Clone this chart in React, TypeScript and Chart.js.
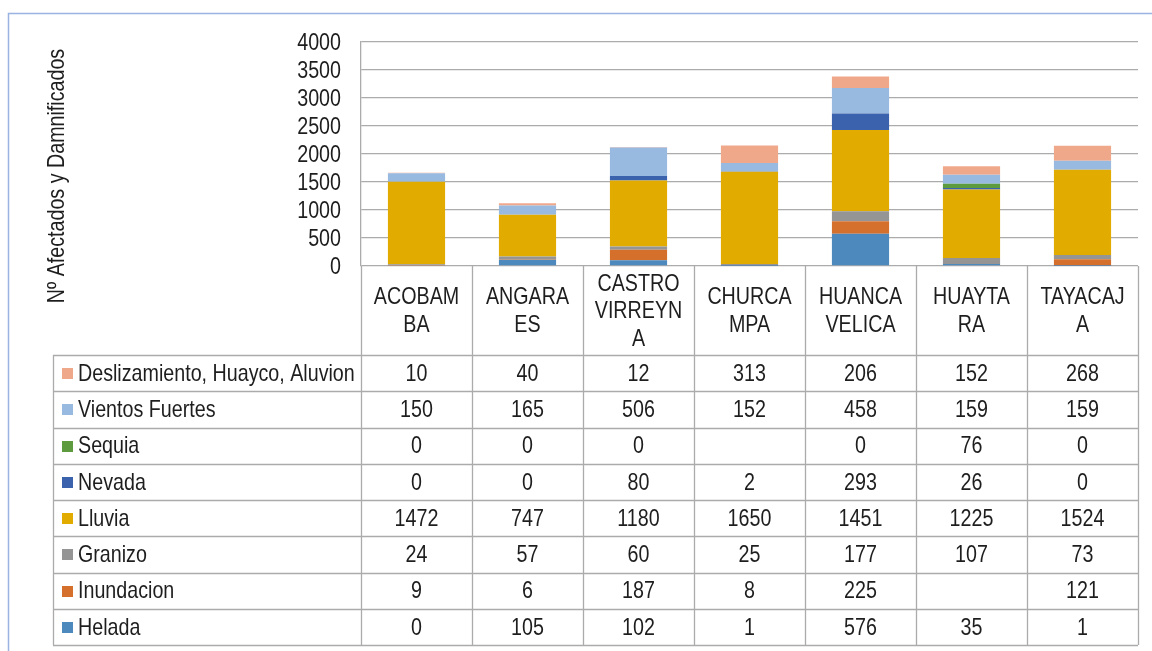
import React, { useEffect, useRef } from "react";
import { Chart, registerables } from "chart.js";

Chart.register(...registerables);

// ---- Data ----
const categoryLabels: string[][] = [
  ["ACOBAM", "BA"],
  ["ANGARA", "ES"],
  ["CASTRO", "VIRREYN", "A"],
  ["CHURCA", "MPA"],
  ["HUANCA", "VELICA"],
  ["HUAYTA", "RA"],
  ["TAYACAJ", "A"],
];

const helada: (number | null)[] = [0, 105, 102, 1, 576, 35, 1];
const inundacion: (number | null)[] = [9, 6, 187, 8, 225, null, 121];
const granizo: (number | null)[] = [24, 57, 60, 25, 177, 107, 73];
const lluvia: (number | null)[] = [1472, 747, 1180, 1650, 1451, 1225, 1524];
const nevada: (number | null)[] = [0, 0, 80, 2, 293, 26, 0];
const sequia: (number | null)[] = [0, 0, 0, null, 0, 76, 0];
const vientosFuertes: (number | null)[] = [150, 165, 506, 152, 458, 159, 159];
const deslizamiento: (number | null)[] = [10, 40, 12, 313, 206, 152, 268];

// stacking order (bottom to top)
const seriesNames = [
  "Helada",
  "Inundacion",
  "Granizo",
  "Lluvia",
  "Nevada",
  "Sequia",
  "Vientos Fuertes",
  "Deslizamiento, Huayco, Aluvion",
];
const seriesValues = [helada, inundacion, granizo, lluvia, nevada, sequia, vientosFuertes, deslizamiento];
const seriesColors = [
  "#4E89BE",
  "#D4702C",
  "#959595",
  "#E1AB00",
  "#3A62AD",
  "#5E9A3E",
  "#98BAE0",
  "#F0A88B",
];

const yMin = 0;
const yMax = 4000;
const yStep = 500;
const yTitle = "Nº Afectados y Damnificados";

const FONT = '"Liberation Sans Narrow", "Arial Narrow", "Liberation Sans", Arial, sans-serif';
const FONT_SIZE = 24;
const NARROW = 0.82;
const TEXT_COLOR = "#1e1e1e";
const LINE_COLOR = "#ABABAB";

function fillNarrow(
  ctx: CanvasRenderingContext2D,
  text: string,
  x: number,
  y: number,
  align: CanvasTextAlign,
  rotate = 0
) {
  ctx.save();
  ctx.translate(x, y);
  if (rotate) ctx.rotate(rotate);
  ctx.scale(NARROW, 1);
  ctx.textAlign = align;
  ctx.textBaseline = "middle";
  ctx.fillText(text, 0, 0);
  ctx.restore();
}

const tablePlugin = {
  id: "dataTable",
  afterDraw(chart: any) {
    const ctx = chart.ctx as CanvasRenderingContext2D;
    const area = chart.chartArea;
    const xScale = chart.scales.x;
    const yScale = chart.scales.y;
    const n = categoryLabels.length;
    const colW = (area.right - area.left) / n;
    const headerBottom = 355;
    const tableLeft = 53;
    const tableBottom = 645;
    const rowCount = seriesNames.length;
    const rowH = (tableBottom - headerBottom) / rowCount;

    ctx.save();
    // outer frame (light blue)
    ctx.strokeStyle = "#9AB3E0";
    ctx.lineWidth = 1.5;
    ctx.beginPath();
    ctx.moveTo(8.5, 700);
    ctx.lineTo(8.5, 13.5);
    ctx.lineTo(1200, 13.5);
    ctx.stroke();

    // table lines
    ctx.strokeStyle = LINE_COLOR;
    ctx.lineWidth = 1.3;
    ctx.beginPath();
    for (let i = 0; i <= n; i++) {
      const x = Math.round(area.left + i * colW) + 0.5;
      ctx.moveTo(x, area.bottom);
      ctx.lineTo(x, tableBottom);
    }
    ctx.moveTo(tableLeft + 0.5, headerBottom);
    ctx.lineTo(tableLeft + 0.5, tableBottom);
    for (let r = 0; r <= rowCount; r++) {
      const y = Math.round(headerBottom + r * rowH) + 0.5;
      ctx.moveTo(tableLeft, y);
      ctx.lineTo(area.right, y);
    }
    ctx.stroke();

    ctx.fillStyle = TEXT_COLOR;
    ctx.font = `${FONT_SIZE}px ${FONT}`;

    // y-axis tick labels (from the scale's own ticks)
    yScale.ticks.forEach((t: any) => {
      const y = yScale.getPixelForValue(t.value);
      fillNarrow(ctx, String(t.value), area.left - 20, y + 1, "right");
    });

    // header category labels
    const headerMid = (area.bottom + headerBottom) / 2 + 1;
    const lh = 27.5;
    for (let i = 0; i < n; i++) {
      const cx = xScale.getPixelForValue(i);
      const lines = categoryLabels[i];
      const start = headerMid - ((lines.length - 1) * lh) / 2;
      lines.forEach((t, k) => fillNarrow(ctx, t, cx, start + k * lh, "center"));
    }

    // rows (top to bottom = reverse stacking order)
    for (let r = 0; r < rowCount; r++) {
      const s = rowCount - 1 - r;
      const cy = headerBottom + rowH * (r + 0.5) + 1;
      ctx.fillStyle = seriesColors[s];
      ctx.fillRect(62, Math.round(cy - 6), 11, 11);
      ctx.fillStyle = TEXT_COLOR;
      fillNarrow(ctx, seriesNames[s], 78, cy, "left");
      const vals = seriesValues[s];
      for (let i = 0; i < n; i++) {
        const v = vals[i];
        if (v === null || v === undefined) continue;
        fillNarrow(ctx, String(v), xScale.getPixelForValue(i), cy, "center");
      }
    }

    // y-axis title
    fillNarrow(ctx, yTitle, 57, 176, "center", -Math.PI / 2);

    ctx.restore();
  },
};

export default function App() {
  const canvasRef = useRef<HTMLCanvasElement | null>(null);

  useEffect(() => {
    if (!canvasRef.current) return;
    const chart = new Chart(canvasRef.current, {
      type: "bar",
      data: {
        labels: categoryLabels.map((l) => l.join("")),
        datasets: seriesNames.map((name, i) => ({
          label: name,
          data: seriesValues[i],
          backgroundColor: seriesColors[i],
          borderWidth: 0,
          categoryPercentage: 1,
          barPercentage: 0.515,
        })),
      },
      options: {
        responsive: false,
        animation: false,
        devicePixelRatio: 1,
        layout: { padding: { left: 0, right: 14, top: 42, bottom: 385 } },
        plugins: {
          legend: { display: false },
          tooltip: { enabled: false },
          title: { display: false },
        },
        scales: {
          x: {
            stacked: true,
            display: false,
          },
          y: {
            stacked: true,
            min: yMin,
            max: yMax,
            afterFit: (s: any) => {
              s.width = 361;
            },
            ticks: {
              display: false,
              stepSize: yStep,
              autoSkip: false,
            },
            grid: {
              color: LINE_COLOR,
              lineWidth: 1.3,
              drawTicks: false,
            },
            border: { display: true, color: LINE_COLOR, width: 1.3 },
          },
        },
      },
      plugins: [tablePlugin],
    });
    return () => chart.destroy();
  }, []);

  return (
    <div style={{ position: "absolute", left: 0, top: 0, width: 1152, height: 651, background: "#fff" }}>
      <canvas ref={canvasRef} width={1152} height={651} style={{ display: "block" }} />
    </div>
  );
}
